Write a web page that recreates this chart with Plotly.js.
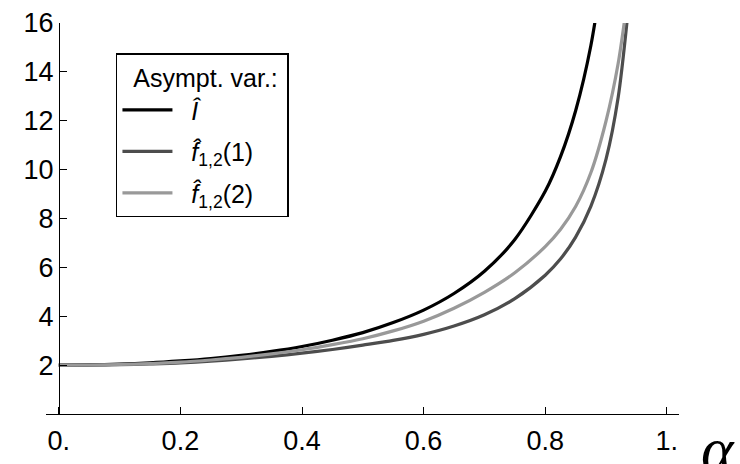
<!DOCTYPE html>
<html>
<head>
<meta charset="utf-8">
<script src="https://cdn.plot.ly/plotly-3.0.1.min.js"></script>
<style>html,body{margin:0;padding:0;background:#fff;}#chart{width:740px;height:464px;}</style>
</head>
<body>
<div id="chart"></div>
<script>
// alpha grid and asymptotic variances
const alphaI  = [0, 0.05, 0.1, 0.15, 0.2, 0.25, 0.3, 0.35, 0.4, 0.45, 0.5, 0.55, 0.6, 0.65, 0.7, 0.75, 0.8, 0.825, 0.85, 0.875, 0.9];
const varI    = [2.00, 2.01, 2.04, 2.09, 2.17, 2.27, 2.40, 2.56, 2.76, 3.02, 3.33, 3.74, 4.25, 4.93, 5.84, 7.14, 9.11, 10.52, 12.41, 15.07, 19.05];
const alphaF  = [0, 0.05, 0.1, 0.15, 0.2, 0.25, 0.3, 0.35, 0.4, 0.45, 0.5, 0.55, 0.6, 0.65, 0.7, 0.75, 0.8, 0.825, 0.85, 0.875, 0.9, 0.92, 0.94];
const varF1   = [2.00, 2.005, 2.02, 2.05, 2.09, 2.16, 2.25, 2.36, 2.49, 2.64, 2.82, 3.01, 3.26, 3.60, 4.06, 4.72, 5.68, 6.34, 7.24, 8.50, 10.43, 12.96, 17.40];
const varF2   = [2.00, 2.005, 2.025, 2.06, 2.12, 2.21, 2.32, 2.46, 2.63, 2.84, 3.08, 3.40, 3.80, 4.33, 4.98, 5.78, 6.85, 7.55, 8.49, 9.87, 11.99, 14.35, 17.90];
const seriesNames = ["<i>Î</i>", "<i>f\u0302</i><sub>1,2</sub>(1)", "<i>f\u0302</i><sub>1,2</sub>(2)"];
const legendTitle = "Asympt. var.:";
const xTickVals = [0, 0.2, 0.4, 0.6, 0.8, 1];
const xTickText = ["0.", "0.2", "0.4", "0.6", "0.8", "1."];
const yTickVals = [2, 4, 6, 8, 10, 12, 14, 16];
const yTickText = ["2", "4", "6", "8", "10", "12", "14", "16"];
const xAxisLabel = "<i>α</i>";

const font = "Liberation Sans, Arial, sans-serif";
const pad = "&nbsp;&nbsp;";
const traces = [
  {x: alphaI, y: varI, name: pad + seriesNames[0], legendgroup: "a", mode: "lines", line: {color: "#000000", width: 3.2, shape: "spline", smoothing: 0.8}},
  {x: alphaF, y: varF1, name: pad + seriesNames[1], legendgroup: "b", mode: "lines", line: {color: "#4d4d4d", width: 3.2, shape: "spline", smoothing: 0.8}},
  {x: alphaF, y: varF2, name: pad + seriesNames[2], legendgroup: "c", mode: "lines", line: {color: "#999999", width: 3.2, shape: "spline", smoothing: 0.8}}
];
const layout = {
  width: 740, height: 464,
  margin: {l: 46, r: 61, t: 23, b: 50, pad: 0},
  paper_bgcolor: "#ffffff", plot_bgcolor: "#ffffff",
  font: {family: font, size: 24, color: "#000"},
  showlegend: true,
  legend: {
    x: 0.1105, y: 0.923, xanchor: "left", yanchor: "top",
    bordercolor: "#000", borderwidth: 1.5, bgcolor: "#fff",
    tracegroupgap: 6, itemwidth: 50,
    font: {family: font, size: 25, color: "#000"},
    title: {text: pad + legendTitle + "&nbsp;", font: {family: font, size: 25, color: "#000"}}
  },
  xaxis: {
    range: [-0.021, 1.02], showgrid: false, zeroline: false,
    showline: true, linecolor: "#000", linewidth: 1,
    ticks: "inside", ticklen: 7, tickwidth: 1, tickcolor: "#000",
    tickvals: xTickVals, ticktext: xTickText, ticklabelstandoff: 3,
    tickfont: {family: font, size: 27, color: "#000"}
  },
  yaxis: {
    range: [0, 16], showgrid: false, zeroline: false,
    anchor: "free", position: 0.0205,
    showline: true, linecolor: "#000", linewidth: 1,
    ticks: "inside", ticklen: 7, tickwidth: 1, tickcolor: "#000",
    tickvals: yTickVals, ticktext: yTickText,
    tickfont: {family: font, size: 27, color: "#000"}
  },
  annotations: [{
    text: xAxisLabel, xref: "paper", yref: "paper",
    x: 1.031, y: -0.09, xanchor: "left", yanchor: "middle", showarrow: false,
    font: {family: "Liberation Serif, Times New Roman, serif", size: 62, color: "#000"}
  }]
};
Plotly.newPlot("chart", traces, layout, {staticPlot: true});
</script>
</body>
</html>
